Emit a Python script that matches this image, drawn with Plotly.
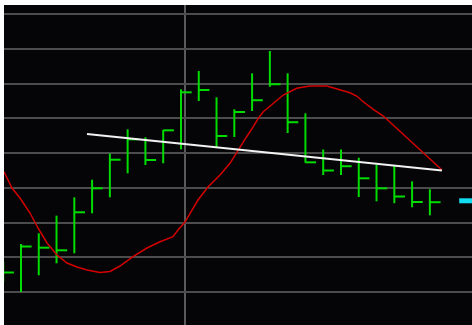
import plotly.graph_objects as go

# Price bars: high / low / close per bar index
highs = [108.63, 113.81, 116.89, 121.96, 127.25, 132.32, 139.86, 146.82, 144.52, 146.62,
         158.33, 163.60, 156.03, 152.58, 162.94, 169.35, 162.94, 151.42, 141.01, 141.01,
         138.65, 136.63, 136.35, 131.86, 129.58]
lows = [102.88, 100.00, 104.81, 108.26, 111.14, 122.65, 127.25, 134.16, 136.55, 137.04,
        141.06, 154.96, 141.44, 144.60, 152.09, 159.08, 145.76, 137.21, 133.67, 133.67,
        127.34, 126.10, 125.55, 124.37, 122.07]
closes = [105.61, 113.09, 112.75, 112.00, 122.94, 129.84, 138.07, 143.94, 137.99, 146.53,
          157.47, 158.13, 144.89, 151.80, 155.19, 159.80, 148.86, 137.32, 134.96, 136.20,
          132.72, 129.84, 127.48, 125.90, 125.84]

# Smoothed oscillating average (red)
avg_x = [0.045, 0.495, 0.945, 1.507, 1.957, 2.463, 3.026, 3.589, 4.151, 4.713,
         5.444, 6.007, 6.569, 7.300, 8.088, 8.819, 9.550, 9.831, 10.225, 10.956,
         11.519, 12.194, 12.756, 13.038, 13.319, 13.695, 14.067, 14.348, 14.629, 15.191,
         15.754, 16.507, 17.255, 18.211, 18.942, 19.505, 19.882, 20.253, 20.816, 21.378,
         22.132, 23.048, 23.836, 24.679]
avg_y = [134.62, 129.93, 127.05, 122.73, 118.42, 114.10, 110.65, 108.35, 107.19, 106.33,
         105.61, 105.90, 107.48, 110.16, 112.66, 114.47, 115.91, 117.84, 120.14, 126.47,
         130.22, 133.67, 137.04, 139.42, 141.81, 144.69, 147.57, 149.99, 151.88, 154.30,
         156.69, 158.62, 159.28, 159.28, 158.13, 157.35, 156.40, 154.76, 152.58, 150.65,
         147.11, 142.79, 138.94, 135.11]

# Linear trend (white)
trend_x = [4.713, 24.679]
trend_y = [145.47, 134.96]

# Current price marker (cyan)
price_x = [25.65, 26.5]
price_level = 126.25

TICK = 0.6  # close tick length in bar units

bx, by = [], []
for i, (h, l, c) in enumerate(zip(highs, lows, closes)):
    bx += [i, i, None, i, i + TICK, None]
    by += [l, h, None, c, c, None]

fig = go.Figure()
fig.add_trace(go.Scatter(x=bx, y=by, mode="lines",
                         line=dict(color="#00dc00", width=2), hoverinfo="skip"))
fig.add_trace(go.Scatter(x=avg_x, y=avg_y, mode="lines",
                         line=dict(color="#d40000", width=1.5),
                         hoverinfo="skip"))
fig.add_trace(go.Scatter(x=trend_x, y=trend_y, mode="lines",
                         line=dict(color="#f2f2f2", width=2), hoverinfo="skip"))
fig.add_trace(go.Scatter(x=price_x, y=[price_level, price_level], mode="lines",
                         line=dict(color="#12dcf0", width=5), hoverinfo="skip"))

fig.update_layout(
    width=472, height=325,
    margin=dict(l=4, r=0, t=5, b=0),
    paper_bgcolor="#ffffff",
    plot_bgcolor="#050508",
    showlegend=False,
    xaxis=dict(range=[0.045, 26.37], showticklabels=False, zeroline=False,
               tickmode="array", tickvals=[10.2], showgrid=True,
               gridcolor="#5a5a5a", gridwidth=2, fixedrange=True),
    yaxis=dict(range=[90.5, 182.6], showticklabels=False, zeroline=False,
               tick0=100, dtick=10, showgrid=True,
               gridcolor="#4c4c4c", gridwidth=2, fixedrange=True),
)

fig.write_html("out.html", config={"displayModeBar": False})
